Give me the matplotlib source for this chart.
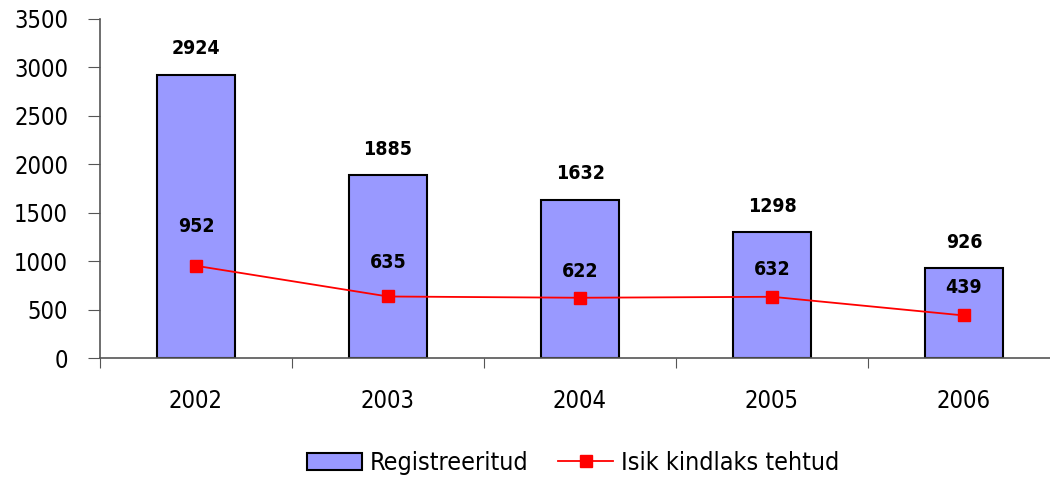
import matplotlib
matplotlib.use("Agg")
import matplotlib.pyplot as plt
import numpy as np
from matplotlib import font_manager

years = ["2002", "2003", "2004", "2005", "2006"]
registered = [2924, 1885, 1632, 1298, 926]
identified = [952, 635, 622, 632, 439]
yticks = [0, 500, 1000, 1500, 2000, 2500, 3000, 3500]

# label placement (points above the marker) for the line labels
line_label_offsets = [21.5, 17.5, 12, 12.5, 13]

fonts = font_manager.fontManager.ttflist
names = {f.name for f in fonts}
condensed = [f for f in fonts if f.name == "DejaVu Sans" and "ondensed" in str(f.stretch) + f.fname]
if "Liberation Sans Narrow" in names:
    plt.rcParams['font.family'] = ["Liberation Sans Narrow", 'DejaVu Sans']
elif condensed:
    plt.rcParams['font.family'] = ['DejaVu Sans']
    plt.rcParams['font.stretch'] = 'condensed'
else:
    plt.rcParams['font.family'] = ["Liberation Sans", 'DejaVu Sans']

fig = plt.figure(figsize=(10.5, 4.79), dpi=100)
W, H = 1050, 479
ax = fig.add_axes([100 / W, (H - 358) / H, 960 / W, 339 / H])

x = np.arange(len(years))
ax.bar(x, registered, width=0.41, color="#9999FF", edgecolor="black", linewidth=1.5,
       label="Registreeritud", zorder=2)
ax.plot(x, identified, color="red", marker="s", markersize=8, linewidth=1.3,
        label="Isik kindlaks tehtud", zorder=3)

for xi, v in zip(x, registered):
    ax.annotate(str(v), (xi, v), xytext=(0, 12), textcoords="offset points",
                ha="center", va="bottom", fontsize=14, fontweight="bold")
for xi, v, off in zip(x, identified, line_label_offsets):
    ax.annotate(str(v), (xi, v), xytext=(0, off), textcoords="offset points",
                ha="center", va="bottom", fontsize=14, fontweight="bold")

ax.set_xlim(-0.5, 4.5)
ax.set_ylim(0, 3500)
ax.set_yticks(yticks)
ax.set_yticklabels([str(t) for t in yticks], fontsize=17)
ax.set_xticks(np.arange(-0.5, 5.0, 1.0))
ax.set_xticklabels([])
ax.set_xticks(x, minor=True)
ax.set_xticklabels(years, minor=True, fontsize=17)
ax.tick_params(axis="x", which="minor", length=0, pad=22)
ax.tick_params(axis="x", which="major", length=7, direction="out", color="#555555")
ax.tick_params(axis="y", length=9, direction="out", color="#555555", pad=14)
for s in ["top", "right"]:
    ax.spines[s].set_visible(False)
for s in ["left", "bottom"]:
    ax.spines[s].set_color("#555555")
    ax.spines[s].set_linewidth(1.2)

handles, labels = ax.get_legend_handles_labels()
order = [labels.index("Registreeritud"), labels.index("Isik kindlaks tehtud")]
fig.legend([handles[i] for i in order], [labels[i] for i in order], loc="center",
           bbox_to_anchor=(573 / W, (H - 463) / H),
           ncol=2, frameon=False, fontsize=18, handlelength=2.2, columnspacing=1.2,
           handletextpad=0.3)

fig.savefig("out.png", dpi=100)
